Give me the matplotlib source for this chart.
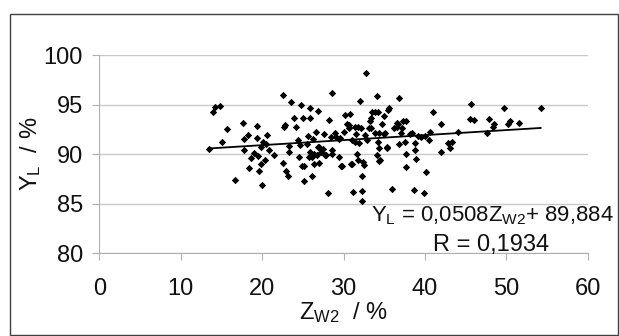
import numpy as np
import matplotlib
matplotlib.use("Agg")
import matplotlib.pyplot as plt
from matplotlib.patches import Rectangle

plt.rcParams['font.family'] = ['Liberation Sans', 'DejaVu Sans']
plt.rcParams['mathtext.fontset'] = 'custom'
plt.rcParams['mathtext.rm'] = 'Liberation Sans'

# Z_W2 (%) and Y_L (%)
zw2 = [13.4, 14.0, 14.2, 14.8, 15.1, 15.7, 16.7, 17.6, 17.7, 17.8, 18.3, 18.4, 18.6,
       19.0, 19.3, 19.4, 19.5, 19.6, 19.8, 19.8, 20.0, 20.1, 20.3, 20.4, 20.6, 20.8,
       21.4, 22.6, 22.7, 22.8, 22.6, 22.9, 23.1, 23.3, 23.3, 23.5, 23.9, 24.2, 24.4,
       24.5, 24.6, 24.8, 24.9, 25.0, 25.1, 25.1, 25.5, 25.6, 25.9, 25.9, 25.9, 26.1,
       26.1, 26.2, 26.3, 26.6, 26.7, 26.9, 27.0, 27.0, 27.2, 27.4, 27.6, 27.8, 28.1,
       28.2, 28.4, 28.6, 28.6, 28.9, 29.1, 29.4, 29.6, 29.7, 30.1, 30.2, 30.4, 30.7,
       30.8, 30.9, 31.0, 31.2, 31.4, 31.5, 31.6, 31.7, 31.7, 31.9, 32.0, 32.1, 32.3,
       32.3, 32.3, 32.4, 32.5, 32.6, 32.7, 32.9, 33.1, 33.2, 33.4, 33.5, 33.8, 33.9,
       34.1, 34.1, 34.2, 34.2, 34.4, 34.4, 34.5, 34.7, 34.9, 35.1, 35.3, 35.4, 35.6,
       35.9, 36.2, 36.5, 36.7, 36.8, 36.8, 37.0, 37.2, 37.3, 37.5, 37.6, 37.6, 37.7,
       38.1, 38.4, 38.6, 38.8, 38.8, 38.9, 39.1, 39.5, 39.9, 40.0, 40.1, 40.5, 40.6,
       41.0, 41.9, 42.0, 42.8, 43.1, 43.3, 44.0, 45.5, 45.7, 46.0, 47.6, 47.9, 48.3,
       48.5, 49.7, 50.2, 50.4, 51.5, 54.2,
       30.7, 31.4, 33.3, 36.6, 29.4, 34.9, 26.8, 26.4, 25.8, 27.7, 28.6, 31.0, 29.8,
       34.4, 35.3]
yl = [90.5, 94.3, 94.8, 94.9, 91.2, 92.5, 87.4, 93.1, 90.4, 91.5, 91.9, 88.6, 89.6,
      90.1, 91.6, 92.8, 89.8, 88.3, 90.7, 89.0, 86.9, 91.2, 89.4, 91.0, 91.9, 90.4,
      89.9, 96.0, 92.7, 92.9, 89.1, 88.3, 87.8, 90.2, 90.8, 95.3, 93.6, 92.7, 91.4,
      89.7, 90.9, 95.0, 88.8, 93.6, 87.3, 88.8, 91.0, 91.8, 94.7, 93.6, 90.2, 89.7,
      87.8, 91.5, 89.0, 92.2, 89.9, 94.4, 90.7, 89.1, 90.2, 90.5, 92.0, 89.9, 86.1,
      93.4, 91.7, 96.2, 90.4, 92.1, 91.7, 89.7, 91.6, 88.8, 92.2, 93.9, 93.0, 92.6,
      94.0, 89.0, 91.4, 86.2, 91.2, 92.0, 90.0, 89.4, 92.7, 91.1, 95.4, 92.6, 87.8,
      86.3, 85.3, 89.2, 88.9, 91.9, 98.2, 91.4, 92.6, 93.3, 93.6, 94.2, 92.1, 94.2,
      95.9, 89.9, 91.2, 94.3, 92.1, 90.6, 89.4, 93.0, 93.8, 92.1, 90.7, 94.5, 94.7,
      86.5, 92.6, 92.7, 93.0, 95.7, 91.0, 92.1, 92.6, 93.3, 91.2, 90.0, 88.7, 93.3,
      92.0, 92.1, 86.4, 91.1, 90.4, 89.5, 91.8, 91.7, 86.1, 91.8, 88.2, 91.4, 92.2,
      94.3, 90.2, 93.0, 91.1, 90.6, 91.2, 92.2, 93.5, 95.1, 93.4, 92.1, 93.5, 92.7,
      93.0, 94.7, 93.0, 93.3, 93.1, 94.7,
      92.9, 92.7, 92.6, 93.1, 91.5, 92.0, 90.7, 90.0, 89.7, 89.9, 90.0, 89.0, 88.8,
      89.3, 90.6]

# trendline coefficients as printed on the chart
slope = 0.0508
intercept = 89.884

fig = plt.figure(figsize=(6.19, 3.36), dpi=100)
ax = fig.add_axes([0.1607, 0.247, 0.789, 0.589])

fig.patches.append(Rectangle((10 / 619, 0.003), 607.5 / 619, 1 - 14 / 336 - 0.003,
                             transform=fig.transFigure, fill=False,
                             edgecolor='#404040', linewidth=1.0))

ax.scatter(zw2, yl, marker='D', s=14, color='black', linewidths=0, zorder=3)

xs = np.array([min(zw2), max(zw2)])
ax.plot(xs, slope * xs + intercept, color='black', linewidth=1.3, zorder=4)

ax.set_xlim(0, 60)
ax.set_ylim(80, 100)
ax.set_xticks(range(0, 61, 10))
ax.set_yticks(range(80, 101, 5))
ax.grid(axis='y', color='#c8c8c8', linewidth=1.0)
ax.set_axisbelow(True)
for s in ('top', 'right'):
    ax.spines[s].set_visible(False)
for s in ('left', 'bottom'):
    ax.spines[s].set_color('#b0b0b0')
ax.tick_params(axis='both', colors='#b0b0b0', labelcolor='#111111', labelsize=17,
               length=5)
ax.tick_params(axis='x', pad=13)
ax.tick_params(axis='y', pad=7)

ax.set_xlabel(r'$\mathregular{Z_{W2}}$  / %', fontsize=17, color='#111111', labelpad=0)
ax.set_ylabel(r'$\mathregular{Y_L}$  / %', fontsize=17, color='#111111')
ax.yaxis.set_label_coords(-0.115, 0.5)

ax.text(1.053, 0.19, r'$\mathregular{Y_L}$ = 0,0508$\mathregular{Z_{W2}}$+ 89,884',
        transform=ax.transAxes, fontsize=15.9, color='#111111', va='center', ha='right')
ax.text(0.802, 0.04, 'R = 0,1934', transform=ax.transAxes, fontsize=17,
        color='#111111', va='center', ha='center')

fig.savefig('out.png', dpi=100)
